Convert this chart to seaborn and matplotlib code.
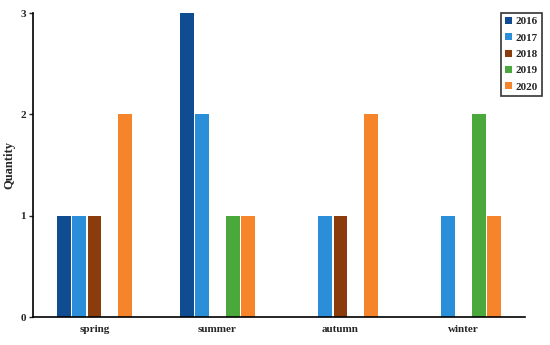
import pandas as pd
import numpy as np
import matplotlib.pyplot as plt
import seaborn as sns

# ---- DATA ----
seasons = ["spring", "summer", "autumn", "winter"]
years = ["2016", "2017", "2018", "2019", "2020"]
q_2016 = [1, 3, 0, 0]
q_2017 = [1, 2, 1, 1]
q_2018 = [1, 0, 1, 0]
q_2019 = [0, 1, 0, 2]
q_2020 = [2, 1, 2, 1]
colors = ["#0f4c92", "#2a8fd8", "#8a3c0c", "#4aa83c", "#f5842a"]


def main():
    values = [q_2016, q_2017, q_2018, q_2019, q_2020]
    df = pd.DataFrame(
        [(s, y, v[i]) for y, v in zip(years, values) for i, s in enumerate(seasons)],
        columns=["season", "year", "quantity"],
    )

    sns.set_style("ticks")
    plt.rcParams["font.family"] = ["Liberation Serif", "DejaVu Serif"]
    plt.rcParams["font.weight"] = "bold"

    fig = plt.figure(figsize=(5.5, 3.45), dpi=100)
    ax = fig.add_axes([0.06, 0.081, 0.8945, 0.881])
    sns.barplot(
        data=df, x="season", y="quantity", hue="year",
        order=seasons, hue_order=years, palette=colors,
        width=0.62, gap=0.1, saturation=1, linewidth=0, ax=ax,
    )

    ax.set_xlim(-0.5, 3.5)
    ax.set_ylim(0, 3)
    ax.set_yticks([0, 1, 2, 3])
    ax.set_xlabel("")
    ax.set_ylabel("Quantity", fontsize=9, fontweight="bold")
    ax.tick_params(axis="x", length=0, labelsize=8, pad=6)
    ax.tick_params(axis="y", length=3, width=1, labelsize=8, pad=2)
    for lbl in ax.get_xticklabels() + ax.get_yticklabels():
        lbl.set_fontweight("bold")
    for side in ["left", "bottom"]:
        ax.spines[side].set_linewidth(1.2)
        ax.spines[side].set_color("black")
    sns.despine(ax=ax)

    leg = ax.legend(
        loc="upper right", bbox_to_anchor=(0.985, 0.962), bbox_transform=fig.transFigure,
        frameon=True, fancybox=False, fontsize=8, title=None,
        handlelength=0.6, handleheight=0.6, handletextpad=0.35,
        labelspacing=0.62, borderpad=0.35, borderaxespad=0,
    )
    leg.get_frame().set_edgecolor("black")
    leg.get_frame().set_linewidth(1.2)
    for t in leg.get_texts():
        t.set_fontweight("bold")

    fig.savefig("out.png", dpi=100)


if __name__ == "__main__":
    main()
